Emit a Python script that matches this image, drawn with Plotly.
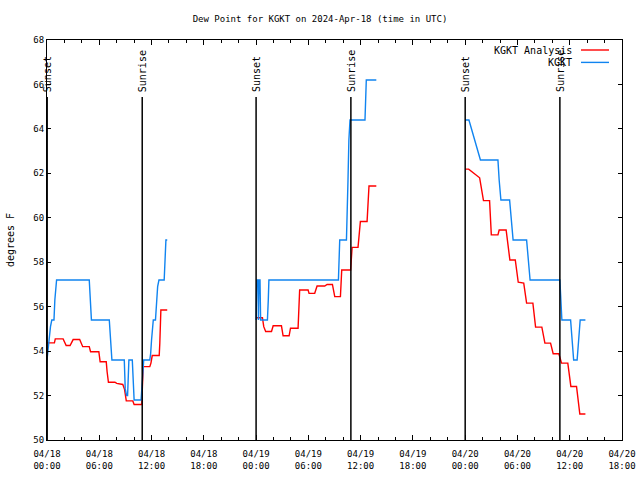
import pandas as pd
import plotly.graph_objects as go

START = pd.Timestamp("2024-04-18 00:00")
END_HOURS = 66

TITLE = "Dew Point for KGKT on 2024-Apr-18 (time in UTC)"
Y_TITLE = "degrees F"
NAME_ANALYSIS = "KGKT Analysis"
NAME_OBS = "KGKT"

# hours since 2024-04-18 00:00 UTC ; None splits the daily segments
analysis_hours = [
    0.0, 0.85, 0.95, 1.85, 2.2, 2.65, 3.0, 3.75, 4.1, 4.85, 5.0, 5.95, 6.1, 6.8, 6.9, 7.05, 7.8,
    8.0, 8.7, 8.9, 9.1, 9.85, 10.0, 10.88, 10.95, 11.05, 11.8, 11.93, 12.08, 12.88, 12.95, 13.07, 13.8,
    None,
    24.0, 24.73, 24.88, 25.1, 25.77, 25.96, 26.91, 27.03, 27.1, 27.79, 27.95, 28.82, 29.0, 29.97,
    30.08, 30.73, 31.0, 31.88, 32.15, 32.76, 33.03, 33.68, 33.83, 34.85, 35.02, 35.7, 35.8, 35.97,
    36.74, 36.85, 36.96, 37.8,
    None,
    48.0, 48.4, 49.66, 49.85, 50.1, 50.8, 51.0, 51.76, 51.9, 52.7, 52.9, 53.13, 53.75, 54.09, 54.72,
    54.85, 55.05, 55.77, 56.08, 56.8, 57.15, 57.8, 58.1, 58.75, 59.06, 59.78, 60.13, 60.78, 61.16, 61.8,
]
analysis_values = [
    54.37, 54.37, 54.55, 54.55, 54.25, 54.25, 54.52, 54.52, 54.2, 54.2, 53.97, 53.97, 53.52, 53.52, 53.07, 52.6, 52.6,
    52.55, 52.5, 52.28, 51.76, 51.76, 51.6, 51.6, 52.4, 53.3, 53.3, 53.46, 53.8, 53.8, 54.36, 55.85, 55.85,
    None,
    55.5, 55.5, 55.1, 54.88, 54.88, 55.14, 55.14, 54.9, 54.69, 54.69, 55.03, 55.03, 56.75, 56.75,
    56.6, 56.6, 56.93, 56.93, 57.0, 57.0, 56.45, 56.45, 57.65, 57.65, 58.67, 58.67, 59.1, 59.83,
    59.83, 60.6, 61.43, 61.43,
    None,
    62.19, 62.19, 61.8, 61.25, 60.77, 60.77, 59.23, 59.23, 59.45, 59.45, 58.78, 58.1, 58.1, 57.1, 57.06,
    56.6, 56.16, 56.16, 55.08, 55.08, 54.36, 54.36, 53.88, 53.88, 53.46, 53.46, 52.41, 52.41, 51.17, 51.17,
]

obs_hours = [
    0.0, 0.2, 0.4, 0.55, 0.8, 0.9, 1.1, 4.85, 4.95, 5.1, 7.15, 7.3, 7.45, 8.87, 8.98, 9.14, 9.25, 9.4,
    9.79, 10.0, 10.8, 10.95, 11.1, 11.8, 11.9, 12.0, 12.1, 12.2, 12.45, 12.55, 12.7, 12.85, 13.45,
    13.55, 13.65, 13.8,
    None,
    24.0, 24.08, 24.22, 24.27, 24.33, 24.45, 24.52, 25.3, 25.4, 25.47, 33.45, 33.5, 33.6, 34.37,
    34.45, 34.55, 34.65, 34.78, 36.5, 36.55, 36.65, 37.8,
    None,
    48.0, 48.43, 49.75, 51.76, 51.9, 52.1, 53.1, 53.3, 53.5, 55.05, 55.25, 55.45, 58.87, 58.95, 59.1,
    60.1, 60.3, 60.45, 60.85, 61.0, 61.2, 61.8,
]
obs_values = [
    53.6, 54.5, 55.1, 55.4, 55.4, 56.3, 57.2, 57.2, 56.5, 55.4, 55.4, 54.5, 53.6, 53.6, 52.3, 52.0, 52.0, 53.6,
    53.6, 51.8, 51.8, 52.7, 53.6, 53.6, 53.9, 54.5, 55.1, 55.4, 55.4, 56.3, 56.9, 57.2, 57.2,
    58.1, 59.0, 59.0,
    None,
    55.4, 57.2, 57.2, 55.4, 57.2, 57.2, 55.4, 55.4, 56.3, 57.2, 57.2, 58.1, 59.0, 59.0,
    59.9, 61.7, 63.5, 64.4, 64.4, 65.3, 66.2, 66.2,
    None,
    64.4, 64.4, 62.6, 62.6, 61.7, 60.8, 60.8, 59.9, 59.0, 59.0, 58.1, 57.2, 57.2, 56.3, 55.4,
    55.4, 54.5, 53.6, 53.6, 54.5, 55.4, 55.4,
]

sunset_hours = [0.02, 24.0, 48.0]
sunrise_hours = [10.93, 34.88, 58.87]

Y_MIN, Y_MAX, Y_STEP = 50, 68, 2

RED = "#ff0000"
BLUE = "#1084f0"
FONT = "DejaVu Sans Mono"


def to_time(hours):
    return [None if h is None else START + pd.Timedelta(hours=h) for h in hours]


fig = go.Figure()
fig.add_trace(go.Scatter(x=to_time(analysis_hours), y=analysis_values, mode="lines",
                         name=NAME_ANALYSIS, line=dict(color=RED, width=1.4)))
fig.add_trace(go.Scatter(x=to_time(obs_hours), y=obs_values, mode="lines",
                         name=NAME_OBS, line=dict(color=BLUE, width=1.4)))

LINE_TOP = 0.8576
for label, hours in (("Sunset", sunset_hours), ("Sunrise", sunrise_hours)):
    for h in hours:
        t = START + pd.Timedelta(hours=h)
        fig.add_shape(type="line", xref="x", yref="paper", x0=t, x1=t, y0=0, y1=LINE_TOP,
                      line=dict(color="black", width=1.5))
        fig.add_annotation(x=t, xref="x", y=0.865, yref="paper", text=label, textangle=-90,
                           showarrow=False, xanchor="center", yanchor="bottom",
                           font=dict(family=FONT, size=10, color="black"))

# legend drawn gnuplot-style: text on the left, sample line on the right
legend_rows = [(NAME_ANALYSIS, RED, 0.975), (NAME_OBS, BLUE, 0.944)]
for name, color, yy in legend_rows:
    fig.add_annotation(x=0.9165, xref="paper", y=yy, yref="paper", text=name, showarrow=False,
                       xanchor="right", yanchor="middle", font=dict(family=FONT, size=10, color="black"))
    fig.add_shape(type="line", xref="paper", yref="paper", x0=0.9287, x1=0.9774, y0=yy, y1=yy,
                  line=dict(color=color, width=1.4))

fig.update_layout(
    width=640, height=480,
    margin=dict(l=47, r=18, t=40, b=40, autoexpand=False),
    plot_bgcolor="white", paper_bgcolor="white",
    font=dict(family=FONT, size=9, color="black"),
    showlegend=False,
    title=dict(text=TITLE, x=0.5, xanchor="center", y=1 - 19 / 480, yanchor="middle",
               font=dict(family=FONT, size=9, color="black")),
)
fig.update_xaxes(
    type="date", automargin=False,
    range=[START, START + pd.Timedelta(hours=END_HOURS)],
    tick0=START, dtick=6 * 3600 * 1000,
    tickformat="%m/%d<br>%H:%M",
    ticks="inside", ticklen=5, tickcolor="black", tickwidth=1,
    minor=dict(dtick=2 * 3600 * 1000, ticks="inside", ticklen=3, tickcolor="black", showgrid=False),
    showline=True, linecolor="black", linewidth=1, mirror="allticks",
    showgrid=False, zeroline=False,
    ticklabelstandoff=5,
    tickfont=dict(family=FONT, size=9),
)
fig.update_yaxes(
    range=[Y_MIN, Y_MAX], dtick=Y_STEP, tick0=Y_MIN, automargin=False,
    ticks="inside", ticklen=4, tickcolor="black", tickwidth=1,
    showline=True, linecolor="black", linewidth=1, mirror="allticks",
    showgrid=False, zeroline=False,
    title=dict(text=Y_TITLE, standoff=16, font=dict(family=FONT, size=10)),
    tickfont=dict(family=FONT, size=9),
)

fig.write_html("out.html", config={"displayModeBar": False},
               post_script="document.body.style.margin='0';")
